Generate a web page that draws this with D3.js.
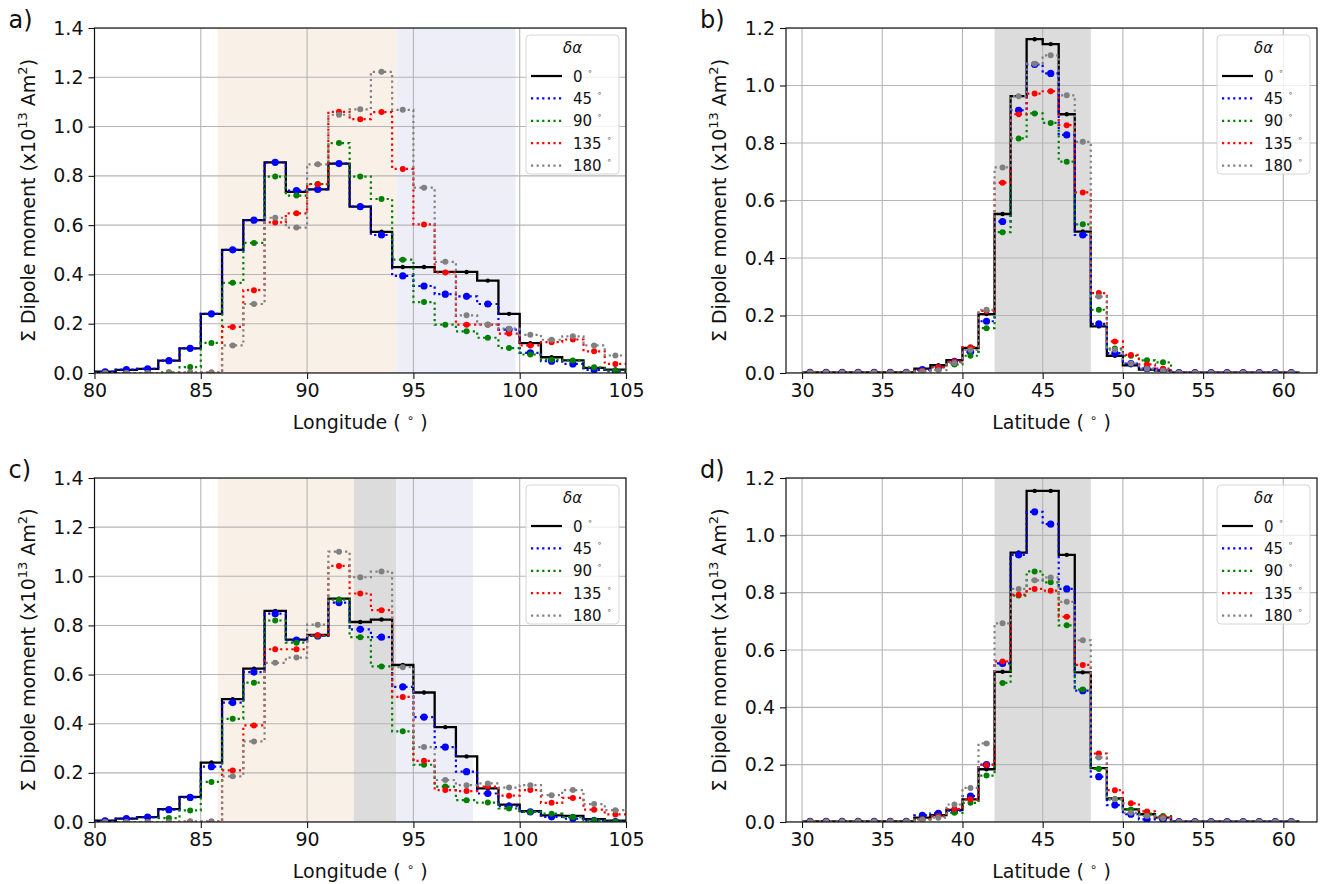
<!DOCTYPE html>
<html>
<head>
<meta charset="utf-8">
<script src="https://cdn.jsdelivr.net/npm/d3@7"></script>
<style>
  body { margin: 0; background: #fff; }
  svg text { font-family: "DejaVu Sans", sans-serif; }
</style>
</head>
<body>
<svg id="chart" width="1323" height="884"></svg>
<script>
// delta alpha values of the legend
var angles = [0, 45, 90, 135, 180];

// longitude histograms, 1 degree bins starting at 80
var lonStart = 80;
var a0   = [0.005, 0.013, 0.017, 0.05, 0.10, 0.24, 0.50, 0.62, 0.855, 0.735, 0.745, 0.85, 0.675, 0.573, 0.43, 0.43, 0.41, 0.41, 0.375, 0.24, 0.121, 0.064, 0.051, 0.021, 0.014];
var a45  = [0.005, 0.014, 0.017, 0.05, 0.10, 0.24, 0.50, 0.62, 0.855, 0.74, 0.745, 0.85, 0.675, 0.56, 0.394, 0.353, 0.32, 0.311, 0.28, 0.176, 0.082, 0.048, 0.037, 0.013, 0.007];
var a90  = [0, 0, 0, 0.003, 0.024, 0.122, 0.366, 0.528, 0.797, 0.72, 0.767, 0.933, 0.797, 0.706, 0.46, 0.288, 0.196, 0.169, 0.143, 0.101, 0.075, 0.054, 0.051, 0.023, 0.01];
var a135 = [0, 0, 0, 0, 0.002, 0.002, 0.187, 0.336, 0.611, 0.648, 0.766, 1.06, 1.03, 1.059, 0.828, 0.603, 0.408, 0.196, 0.196, 0.16, 0.112, 0.125, 0.136, 0.088, 0.037];
var a180 = [0, 0, 0, 0, 0.002, 0.002, 0.112, 0.28, 0.63, 0.59, 0.847, 1.048, 1.07, 1.222, 1.068, 0.752, 0.451, 0.234, 0.197, 0.18, 0.155, 0.135, 0.149, 0.112, 0.071];

var c0   = [0.005, 0.014, 0.02, 0.052, 0.102, 0.242, 0.5, 0.624, 0.859, 0.742, 0.761, 0.909, 0.814, 0.824, 0.639, 0.527, 0.386, 0.267, 0.137, 0.071, 0.044, 0.027, 0.025, 0.012, 0.006];
var c45  = [0.005, 0.014, 0.02, 0.05, 0.10, 0.225, 0.486, 0.61, 0.848, 0.74, 0.757, 0.893, 0.784, 0.752, 0.55, 0.427, 0.305, 0.205, 0.116, 0.064, 0.041, 0.021, 0.014, 0.006, 0.002];
var c90  = [0, 0, 0, 0.016, 0.047, 0.163, 0.42, 0.567, 0.82, 0.73, 0.757, 0.905, 0.752, 0.633, 0.369, 0.233, 0.144, 0.089, 0.079, 0.055, 0.041, 0.034, 0.02, 0.007, 0.002];
var c135 = [0, 0, 0, 0, 0.002, 0.002, 0.21, 0.393, 0.703, 0.703, 0.76, 1.042, 0.93, 0.862, 0.509, 0.249, 0.13, 0.126, 0.144, 0.107, 0.13, 0.078, 0.098, 0.05, 0.031];
var c180 = [0, 0, 0, 0, 0.002, 0.002, 0.186, 0.328, 0.648, 0.669, 0.803, 1.1, 0.996, 1.019, 0.63, 0.305, 0.171, 0.15, 0.157, 0.14, 0.15, 0.109, 0.13, 0.073, 0.048];

// latitude histograms, 1 degree bins starting at 30
var latStart = 30;
var b0   = [0.002, 0.002, 0.002, 0.002, 0.002, 0.002, 0.002, 0.015, 0.027, 0.045, 0.087, 0.205, 0.553, 0.963, 1.161, 1.144, 0.9, 0.492, 0.162, 0.06, 0.027, 0.012, 0.008, 0.001, 0.001, 0.001, 0.001, 0.001, 0.001, 0.001, 0.001];
var b45  = [0.002, 0.002, 0.002, 0.002, 0.002, 0.002, 0.002, 0.012, 0.02, 0.04, 0.073, 0.18, 0.527, 0.914, 1.073, 1.042, 0.828, 0.48, 0.171, 0.069, 0.033, 0.015, 0.01, 0.001, 0.001, 0.001, 0.001, 0.001, 0.001, 0.001, 0.001];
var b90  = [0.002, 0.002, 0.002, 0.002, 0.002, 0.002, 0.002, 0.008, 0.02, 0.03, 0.06, 0.156, 0.49, 0.816, 0.903, 0.87, 0.735, 0.517, 0.22, 0.085, 0.06, 0.044, 0.037, 0.001, 0.001, 0.001, 0.001, 0.001, 0.001, 0.001, 0.001];
var b135 = [0.002, 0.002, 0.002, 0.002, 0.002, 0.002, 0.002, 0.008, 0.02, 0.04, 0.09, 0.216, 0.662, 0.9, 0.972, 0.98, 0.862, 0.628, 0.278, 0.11, 0.063, 0.03, 0.015, 0.001, 0.001, 0.001, 0.001, 0.001, 0.001, 0.001, 0.001];
var b180 = [0.002, 0.002, 0.002, 0.002, 0.002, 0.002, 0.002, 0.005, 0.01, 0.035, 0.08, 0.22, 0.715, 0.963, 1.076, 1.105, 0.966, 0.804, 0.266, 0.081, 0.033, 0.015, 0.008, 0.001, 0.001, 0.001, 0.001, 0.001, 0.001, 0.001, 0.001];

var d0   = [0.002, 0.002, 0.002, 0.002, 0.002, 0.002, 0.002, 0.015, 0.024, 0.042, 0.079, 0.184, 0.524, 0.94, 1.155, 1.155, 0.932, 0.522, 0.188, 0.082, 0.044, 0.027, 0.015, 0.001, 0.001, 0.001, 0.001, 0.001, 0.001, 0.001, 0.001];
var d45  = [0.002, 0.002, 0.002, 0.002, 0.002, 0.002, 0.002, 0.023, 0.03, 0.04, 0.09, 0.2, 0.553, 0.932, 1.082, 1.039, 0.813, 0.458, 0.158, 0.059, 0.027, 0.009, 0.009, 0.001, 0.001, 0.001, 0.001, 0.001, 0.001, 0.001, 0.001];
var d90  = [0.002, 0.002, 0.002, 0.002, 0.002, 0.002, 0.002, 0.01, 0.02, 0.032, 0.067, 0.162, 0.485, 0.79, 0.874, 0.836, 0.686, 0.462, 0.185, 0.079, 0.044, 0.029, 0.021, 0.001, 0.001, 0.001, 0.001, 0.001, 0.001, 0.001, 0.001];
var d135 = [0.002, 0.002, 0.002, 0.002, 0.002, 0.002, 0.002, 0.01, 0.02, 0.045, 0.079, 0.199, 0.56, 0.793, 0.813, 0.807, 0.716, 0.548, 0.239, 0.111, 0.065, 0.037, 0.017, 0.001, 0.001, 0.001, 0.001, 0.001, 0.001, 0.001, 0.001];
var d180 = [0.002, 0.002, 0.002, 0.002, 0.002, 0.002, 0.002, 0.008, 0.015, 0.061, 0.119, 0.274, 0.693, 0.813, 0.843, 0.853, 0.768, 0.634, 0.225, 0.079, 0.032, 0.021, 0.013, 0.001, 0.001, 0.001, 0.001, 0.001, 0.001, 0.001, 0.001];

// shaded ranges [from, to, kind]
var spansA = [[85.8, 94.2, "orange"], [94.2, 99.8, "blue"]];
var spansB = [[42, 48, "gray"]];
var spansC = [[85.8, 92.2, "orange"], [92.2, 94.2, "gray"], [94.2, 97.8, "blue"]];
var spansD = [[42, 48, "gray"]];

var lonTicks = [80, 85, 90, 95, 100, 105];
var latTicks = [30, 35, 40, 45, 50, 55, 60];
var yTicksLon = [0, 0.2, 0.4, 0.6, 0.8, 1.0, 1.2, 1.4];
var yTicksLat = [0, 0.2, 0.4, 0.6, 0.8, 1.0, 1.2];

var colors = ["#000000", "#0000ff", "#008000", "#ff0000", "#808080"];
var radius = [2.2, 3.6, 3, 3, 3];
var spanColor = {orange: "#f9f0e7", blue: "#eeeef9", gray: "#dcdcdc"};

var svg = d3.select("#chart");

var panels = [
    {name: "a)", x0: 94.5, x1: 626, y0: 28, y1: 373, dom: [80, 105], yMax: 1.4, start: lonStart,
        series: [a0, a45, a90, a135, a180], spans: spansA, xt: lonTicks, yt: yTicksLon, xlabel: "Longitude"},
    {name: "b)", x0: 786, x1: 1317, y0: 28, y1: 373, dom: [29.0, 62.1], yMax: 1.2, start: latStart,
        series: [b0, b45, b90, b135, b180], spans: spansB, xt: latTicks, yt: yTicksLat, xlabel: "Latitude"},
    {name: "c)", x0: 94.5, x1: 626, y0: 478, y1: 822, dom: [80, 105], yMax: 1.4, start: lonStart,
        series: [c0, c45, c90, c135, c180], spans: spansC, xt: lonTicks, yt: yTicksLon, xlabel: "Longitude"},
    {name: "d)", x0: 786, x1: 1317, y0: 478, y1: 822, dom: [29.0, 62.1], yMax: 1.2, start: latStart,
        series: [d0, d45, d90, d135, d180], spans: spansD, xt: latTicks, yt: yTicksLat, xlabel: "Latitude"}
];

panels.forEach(function (p, pi) {
    var x = d3.scaleLinear().domain(p.dom).range([p.x0, p.x1]);
    var y = d3.scaleLinear().domain([0, p.yMax]).range([p.y1, p.y0]);
    var g = svg.append("g");

    var clipId = "clip" + pi;
    svg.append("clipPath").attr("id", clipId)
            .append("rect")
            .attr("x", p.x0).attr("y", p.y0)
            .attr("width", p.x1 - p.x0).attr("height", p.y1 - p.y0);

    var plot = g.append("g").attr("clip-path", "url(#" + clipId + ")");

    // shaded bands
    plot.selectAll(".span")
            .data(p.spans)
            .enter()
            .append("rect")
            .attr("x", function (d) { return x(d[0]); })
            .attr("y", p.y0)
            .attr("width", function (d) { return x(d[1]) - x(d[0]); })
            .attr("height", p.y1 - p.y0)
            .attr("fill", function (d) { return spanColor[d[2]]; });

    // grid
    plot.selectAll(".gx")
            .data(p.xt)
            .enter()
            .append("line")
            .attr("x1", function (d) { return x(d); })
            .attr("x2", function (d) { return x(d); })
            .attr("y1", p.y0).attr("y2", p.y1)
            .attr("stroke", "#b5b5b5").attr("stroke-width", 1.1);
    plot.selectAll(".gy")
            .data(p.yt)
            .enter()
            .append("line")
            .attr("x1", p.x0).attr("x2", p.x1)
            .attr("y1", function (d) { return y(d); })
            .attr("y2", function (d) { return y(d); })
            .attr("stroke", "#b5b5b5").attr("stroke-width", 1.1);

    var line = d3.line()
            .x(function (d) { return x(d[0]); })
            .y(function (d) { return y(d[1]); });

    p.series.forEach(function (vals, si) {
        var pts = [];
        vals.forEach(function (v, i) {
            pts.push([p.start + i, v]);
            pts.push([p.start + i + 1, v]);
        });
        plot.append("path")
                .attr("d", line(pts))
                .attr("fill", "none")
                .attr("stroke", colors[si])
                .attr("stroke-width", si === 0 ? 2.3 : 2.2)
                .attr("stroke-dasharray", si === 0 ? null : "2.2,3.4");
        plot.selectAll(".m" + si)
                .data(vals)
                .enter()
                .append("circle")
                .attr("cx", function (d, i) { return x(p.start + i + 0.5); })
                .attr("cy", function (d) { return y(d); })
                .attr("r", radius[si])
                .attr("fill", colors[si]);
    });

    // axes
    var xAxis = d3.axisBottom(x).tickValues(p.xt).tickSize(6).tickPadding(5)
            .tickFormat(d3.format("d"));
    var yAxis = d3.axisLeft(y).tickValues(p.yt).tickSize(6).tickPadding(5)
            .tickFormat(d3.format(".1f"));

    var gx = g.append("g").attr("transform", "translate(0," + p.y1 + ")").call(xAxis);
    var gy = g.append("g").attr("transform", "translate(" + p.x0 + ",0)").call(yAxis);
    [gx, gy].forEach(function (ax) {
        ax.select(".domain").remove();
        ax.selectAll("text").attr("font-size", 19).attr("fill", "#111")
                .attr("font-family", "DejaVu Sans");
        ax.selectAll("line").attr("stroke", "#111").attr("stroke-width", 1.1);
    });

    // frame
    g.append("rect")
            .attr("x", p.x0).attr("y", p.y0)
            .attr("width", p.x1 - p.x0).attr("height", p.y1 - p.y0)
            .attr("fill", "none").attr("stroke", "#111").attr("stroke-width", 1.2);

    // x label, degree sign as a raised ring between spaces
    var xl = g.append("text")
            .attr("x", (p.x0 + p.x1) / 2)
            .attr("y", p.y1 + 56)
            .attr("text-anchor", "middle")
            .attr("font-size", 19).attr("fill", "#111");
    xl.append("tspan").text(p.xlabel + " ( ");
    xl.append("tspan").attr("font-size", 12).attr("dy", -7).text("\u2218");
    xl.append("tspan").attr("dy", 7).text(" )");

    // y label
    var yl = g.append("text")
            .attr("transform", "translate(" + (p.x0 - 60) + "," + ((p.y0 + p.y1) / 2) + ") rotate(-90)")
            .attr("text-anchor", "middle")
            .attr("font-size", 19).attr("fill", "#111");
    yl.append("tspan").text("\u03a3 Dipole moment (x10");
    yl.append("tspan").attr("font-size", 13).attr("dy", -8).text("13");
    yl.append("tspan").attr("dy", 8).text(" Am");
    yl.append("tspan").attr("font-size", 13).attr("dy", -8).text("2");
    yl.append("tspan").attr("dy", 8).text(")");

    // panel letter
    g.append("text")
            .attr("x", p.x0 - 86)
            .attr("y", p.y0)
            .attr("font-size", 24).attr("fill", "#111")
            .text(p.name);

    // legend
    var lx = p.x1 - 100, ly = p.y0 + 7;
    var leg = g.append("g");
    leg.append("rect")
            .attr("x", lx).attr("y", ly)
            .attr("width", 93).attr("height", 139)
            .attr("rx", 4)
            .attr("fill", "#fff").attr("fill-opacity", 0.8)
            .attr("stroke", "#d6d6d6").attr("stroke-width", 1);
    leg.append("text")
            .attr("x", lx + 46.5).attr("y", ly + 18)
            .attr("text-anchor", "middle")
            .attr("font-size", 15).attr("font-style", "italic")
            .attr("fill", "#111")
            .text("\u03b4\u03b1");
    angles.forEach(function (a, i) {
        var ry = ly + 41 + i * 22.4;
        leg.append("line")
                .attr("x1", lx + 5).attr("x2", lx + 36)
                .attr("y1", ry).attr("y2", ry)
                .attr("stroke", colors[i])
                .attr("stroke-width", 2.2)
                .attr("stroke-dasharray", i === 0 ? null : "2.2,3.4");
        var t = leg.append("text")
                .attr("x", lx + 47).attr("y", ry + 5.5)
                .attr("font-size", 15).attr("fill", "#111");
        t.append("tspan").text(a + " ");
        t.append("tspan").attr("font-size", 9).attr("dy", -8).attr("fill", "#666").text("\u2218");
    });
});
</script>
</body>
</html>
